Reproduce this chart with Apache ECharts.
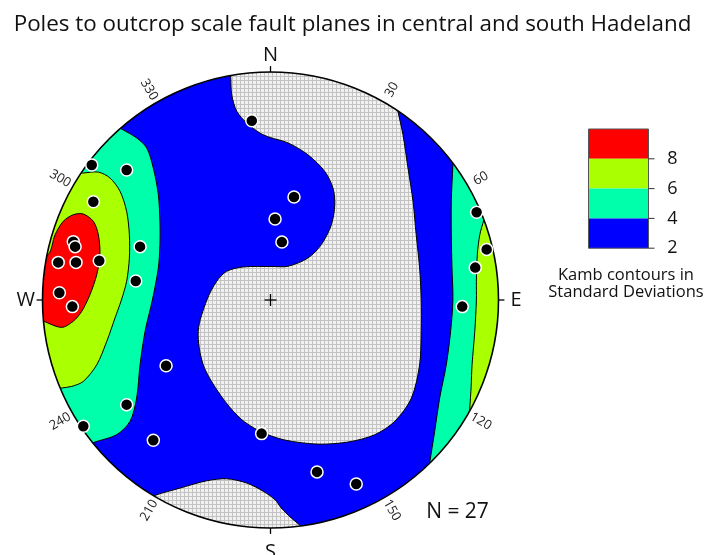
<!DOCTYPE html>
<html>
<head>
<meta charset="utf-8">
<script src="https://cdn.jsdelivr.net/npm/echarts@6/dist/echarts.min.js"></script>
<style>
  html, body { margin: 0; padding: 0; background: #fff; }
  #chart { width: 705px; height: 555px; }
</style>
</head>
<body>
<div id="chart"></div>
<script>
// Lower-hemisphere equal-area net, primitive circle radius = 100 projection units.

// Poles to fault planes (projected x = east, y = north)
const poleX = [-8.2, -78.4, -63.1, -77.7, 10.3, 2.0, 5.0, -86.5, -85.7, -57.2, -93.1, -85.3, -75.1, -59.1,
               -92.6, -86.9, 90.4, 94.8, 89.8, 84.1, -45.8, -63.1, -82.1, -51.4, -3.9, 20.4, 37.6];
const poleY = [78.6, 59.2, 57.0, 43.1, 45.2, 35.5, 25.4, 25.6, 23.4, 23.4, 16.5, 16.5, 17.2, 8.3,
               3.2, -2.9, 38.5, 22.2, 14.2, -2.9, -28.8, -45.9, -55.4, -61.5, -58.6, -75.4, -80.7];

// Kamb contour regions; vertices past radius 100 are hidden by the net's outer mask
const belowTwoCentral = [[-17.5, 98.6], [-17.0, 90.0], [-14.8, 82.8], [-10.4, 77.6], [-4.6, 73.2], [-0.2, 71.3],
  [7.7, 68.9], [16.4, 63.7], [23.8, 56.4], [27.4, 49.1], [28.2, 41.8], [26.7, 33.0], [22.3, 24.3], [16.4, 18.4],
  [7.7, 14.8], [0.7, 14.7], [-11.9, 14.5], [-19.2, 12.6], [-23.6, 8.2], [-27.9, 0], [-31.7, -13.7], [-29.5, -28.4],
  [-22.1, -41.5], [-13.4, -51.8], [-4.6, -57.6], [6.2, -61.4], [20.8, -63.2], [34.0, -62.3], [45.7, -59.1],
  [54.5, -53.2], [61.8, -43.0], [65.4, -28.4], [66.1, -13.7], [66.1, 0], [65.4, 14.0], [63.9, 28.6], [62.5, 43.3],
  [60.3, 57.9], [58.1, 72.5], [55.9, 82.8], [53.5, 96], [20, 118], [-18.5, 108]];
const belowTwoSouth = [[-50.7, -85.7], [-39.7, -82.5], [-28.0, -79.3], [-19.2, -78.4], [-10.4, -80.3], [-3.2, -83.9],
  [2.0, -87.6], [4.7, -91.2], [9.1, -95.6], [13.5, -99.3], [19, -105], [0, -118], [-35, -112], [-61, -90]];
const fourWest = [[-65.3, 75.0], [-58.7, 71.1], [-54.3, 66.7], [-51.4, 57.9], [-49.2, 46.2], [-48.5, 34.5],
  [-48.5, 24.3], [-49.2, 14.0], [-51.8, 0], [-55.0, -13.7], [-57.2, -28.4], [-58.7, -43.0], [-61.6, -53.2],
  [-67.5, -59.1], [-77.0, -62.3], [-87, -66], [-112, -30], [-115, 30], [-73, 80]];
const sixWest = [[-82.1, 55.7], [-75.5, 56.1], [-70.4, 53.5], [-66.0, 47.7], [-63.1, 38.9], [-61.9, 28.6],
  [-61.9, 18.4], [-63.1, 8.2], [-65.4, 0], [-68.2, -7.9], [-71.8, -18.1], [-76.2, -28.4], [-82.1, -35.7],
  [-87.2, -37.9], [-91.6, -38.6], [-100, -40], [-112, 0], [-92, 55]];
const eightWest = [[-97.5, 19.9], [-94.5, 28.6], [-90.9, 34.5], [-86.5, 37.4], [-82.1, 37.7], [-77.7, 34.5],
  [-75.5, 28.6], [-74.8, 19.9], [-76.2, 11.1], [-79.2, 2.3], [-82.8, -5.0], [-86.5, -9.3], [-91.6, -12.0],
  [-99.6, -9.3], [-108, -6.5], [-110, 12]];
const fourEast = [[80.0, 59.3], [79.3, 43.3], [79.3, 28.6], [79.6, 14.0], [80.0, 0], [79.0, -13.7], [77.1, -28.4],
  [74.2, -43.0], [72.0, -57.6], [69.8, -71.5], [68, -82], [100, -50], [115, 0], [100, 50], [80.6, 70]];
const sixEast = [[93.6, 35.2], [91.8, 28.6], [90.7, 19.9], [90.3, 8.2], [90.3, 0], [89.6, -13.7], [88.4, -28.4],
  [88.0, -38.0], [87.4, -47.4], [86.6, -58], [108, -30], [110, 20], [95.5, 42]];

// Net annotation
const compassLabels = ['N', 'E', 'S', 'W'];
const compassAzimuths = [0, 90, 180, 270];
const degreeAzimuths = [30, 60, 120, 150, 210, 240, 300, 330];
const contourLevels = [2, 4, 6, 8];
const sampleCount = 27;

const FONT = "'Open Sans', 'Noto Sans', sans-serif";
const levelColors = ['#0000ff', '#00ffaa', '#aaff00', '#ff0000'];

// fine grey mesh used for the area below the lowest contour
function meshPattern() {
  const c = document.createElement('canvas');
  c.width = 4; c.height = 4;
  const g = c.getContext('2d');
  g.fillStyle = '#f1f1f1'; g.fillRect(0, 0, 4, 4);
  g.fillStyle = '#c3c3c3'; g.fillRect(0, 0, 4, 1); g.fillRect(0, 0, 1, 4);
  return c;
}
const mesh = { image: meshPattern(), repeat: 'repeat' };

const regions = [
  { pts: belowTwoCentral, fill: mesh },
  { pts: belowTwoSouth, fill: mesh },
  { pts: fourWest, fill: levelColors[1] },
  { pts: sixWest, fill: levelColors[2] },
  { pts: eightWest, fill: levelColors[3] },
  { pts: fourEast, fill: levelColors[1] },
  { pts: sixEast, fill: levelColors[2] }
];

function polar(az, r) {
  const a = az * Math.PI / 180;
  return [r * Math.sin(a), r * Math.cos(a)];
}

function netGeometry(api) {
  const c = api.coord([0, 0]);
  const r = api.coord([100, 0])[0] - c[0];
  return { cx: c[0], cy: c[1], r };
}

const chart = echarts.init(document.getElementById('chart'), null, { renderer: 'canvas' });

const option = {
  animation: false,
  backgroundColor: '#fff',
  title: {
    text: 'Poles to outcrop scale fault planes in central and south Hadeland',
    left: 'center',
    top: 9,
    z: 20,
    textStyle: { fontFamily: FONT, fontWeight: 'normal', fontSize: 22.4, color: '#111' }
  },
  grid: { left: 42.5, top: 72, width: 456, height: 456 },
  xAxis: { type: 'value', min: -100, max: 100, show: false },
  yAxis: { type: 'value', min: -100, max: 100, show: false },
  series: [
    {
      // base disc: 2-4 sigma band
      type: 'custom', z: 1, silent: true,
      data: [[0, 0]],
      renderItem: (params, api) => {
        const g = netGeometry(api);
        return { type: 'circle', shape: g, style: { fill: levelColors[0] } };
      }
    },
    {
      type: 'custom', z: 2, silent: true,
      data: regions.map((_, i) => [0, 0, i]),
      renderItem: (params, api) => {
        const reg = regions[params.dataIndex];
        return {
          type: 'polygon',
          shape: { points: reg.pts.map(p => api.coord(p)), smooth: 0.3 },
          style: { fill: reg.fill, stroke: '#000', lineWidth: 1 }
        };
      }
    },
    {
      // mask, primitive circle, ticks and labels
      type: 'custom', z: 3, silent: true,
      data: [[0, 0]],
      renderItem: (params, api) => {
        const g = netGeometry(api);
        const kids = [
          { type: 'ring', shape: { cx: g.cx, cy: g.cy, r: g.r * 1.32, r0: g.r }, style: { fill: '#fff' } },
          { type: 'circle', shape: g, style: { fill: 'none', stroke: '#000', lineWidth: 1.6 } },
          { type: 'line', shape: { x1: g.cx - 6, y1: g.cy, x2: g.cx + 6, y2: g.cy }, style: { stroke: '#000', lineWidth: 1.3 } },
          { type: 'line', shape: { x1: g.cx, y1: g.cy - 6, x2: g.cx, y2: g.cy + 6 }, style: { stroke: '#000', lineWidth: 1.3 } }
        ];
        const labelR = { N: 107.2, E: 107.7, S: 110.8, W: 107.4 };
        compassAzimuths.forEach((az, i) => {
          const a = api.coord(polar(az, 100));
          const b = api.coord(polar(az, 102.6));
          kids.push({ type: 'line', shape: { x1: a[0], y1: a[1], x2: b[0], y2: b[1] }, style: { stroke: '#000', lineWidth: 1.3 } });
          const t = api.coord(polar(az, labelR[compassLabels[i]]));
          kids.push({ type: 'text', x: t[0], y: t[1], style: {
            text: compassLabels[i], font: '20px ' + FONT, fill: '#111', align: 'center', verticalAlign: 'middle' } });
        });
        degreeAzimuths.forEach(az => {
          const t = api.coord(polar(az, 106.5));
          const rotDeg = az < 180 ? 90 - az : 270 - az;
          kids.push({ type: 'text', x: t[0], y: t[1], rotation: rotDeg * Math.PI / 180, style: {
            text: String(az), font: '13px ' + FONT, fill: '#222', align: 'center', verticalAlign: 'middle' } });
        });
        return { type: 'group', children: kids };
      }
    },
    {
      type: 'scatter', z: 4, silent: true,
      data: poleX.map((x, i) => [x, poleY[i]]),
      symbolSize: 12,
      itemStyle: { color: '#000', borderColor: '#fff', borderWidth: 1.5, opacity: 1 }
    }
  ],
  graphic: (function () {
    const els = [];
    const x0 = 588.5, y0 = 129, w = 60, bh = 29.8;
    const n = contourLevels.length;
    // colour bar, highest band on top
    for (let i = 0; i < n; i++) {
      els.push({ type: 'rect', z: 100, shape: { x: x0, y: y0 + i * bh, width: w, height: bh },
        style: { fill: levelColors[n - 1 - i] } });
    }
    els.push({ type: 'rect', z: 101, shape: { x: x0, y: y0, width: w, height: bh * n },
      style: { fill: 'none', stroke: '#555', lineWidth: 1 } });
    for (let i = 0; i < n; i++) {
      const y = y0 + (i + 1) * bh;
      els.push({ type: 'line', z: 101, shape: { x1: x0 + w, y1: y, x2: x0 + w + 6, y2: y },
        style: { stroke: '#333', lineWidth: 1 } });
      els.push({ type: 'text', z: 101, x: 672.5, y: y, style: {
        text: String(contourLevels[n - 1 - i]), font: '18px ' + FONT, fill: '#111', align: 'center', verticalAlign: 'middle' } });
    }
    els.push({ type: 'text', z: 101, x: 626, y: 275, style: {
      text: 'Kamb contours in', font: '16.5px ' + FONT, fill: '#111', align: 'center', verticalAlign: 'middle' } });
    els.push({ type: 'text', z: 101, x: 626, y: 292, style: {
      text: 'Standard Deviations', font: '16.5px ' + FONT, fill: '#111', align: 'center', verticalAlign: 'middle' } });
    els.push({ type: 'text', z: 101, x: 457.5, y: 512.5, style: {
      text: 'N = ' + sampleCount, font: '21px ' + FONT, fill: '#111', align: 'center', verticalAlign: 'middle' } });
    return els;
  })()
};

chart.setOption(option);
</script>
</body>
</html>
